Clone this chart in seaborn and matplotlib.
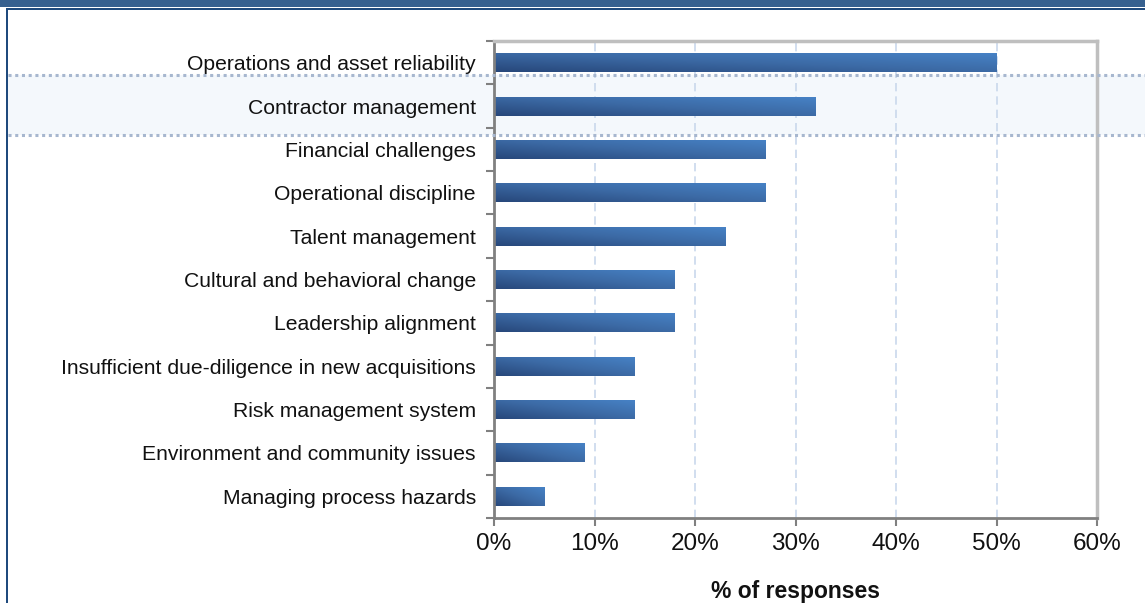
import numpy as np
import pandas as pd
import matplotlib
matplotlib.use("Agg")
import matplotlib.pyplot as plt
import seaborn as sns
from matplotlib.colors import LinearSegmentedColormap
from matplotlib.patches import Rectangle
from matplotlib.lines import Line2D
from matplotlib.ticker import FixedLocator, PercentFormatter

categories = [
    "Operations and asset reliability",
    "Contractor management",
    "Financial challenges",
    "Operational discipline",
    "Talent management",
    "Cultural and behavioral change",
    "Leadership alignment",
    "Insufficient due-diligence in new acquisitions",
    "Risk management system",
    "Environment and community issues",
    "Managing process hazards",
]
values = [50, 32, 27, 27, 23, 18, 18, 14, 14, 9, 5]
xticks = [0, 10, 20, 30, 40, 50, 60]
xlabel = "% of responses"

sns.set_theme(style="white")
plt.rcParams["font.family"] = ["Liberation Sans", "DejaVu Sans"]

W, H = 1145, 603
fig = plt.figure(figsize=(W / 100, H / 100), dpi=100, facecolor="white")

def fx(px):
    return px / W

def fy(py):
    return 1 - py / H

# header band and frame
fig.patches.append(Rectangle((0, fy(7)), 1, fy(0) - fy(7), transform=fig.transFigure,
                             facecolor="#36608F", edgecolor="none", zorder=-5))
fig.patches.append(Rectangle((fx(6), fy(10)), 1 - fx(6), fy(8) - fy(10), transform=fig.transFigure,
                             facecolor="#1F4A7D", edgecolor="none", zorder=-5))
fig.patches.append(Rectangle((fx(6), 0), fx(2), fy(8), transform=fig.transFigure,
                             facecolor="#1F4A7D", edgecolor="none", zorder=-5))
# highlight band
fig.patches.append(Rectangle((fx(8), fy(135)), 1 - fx(8), fy(75) - fy(135), transform=fig.transFigure,
                             facecolor="#F4F8FC", edgecolor="none", zorder=-4))
for yy in (75, 135):
    fig.lines.append(Line2D([fx(8), 1], [fy(yy), fy(yy)], transform=fig.transFigure,
                            color="#A7B7CF", lw=2.2, linestyle=(0, (1, 1.2)), zorder=3))

ax = fig.add_axes([fx(494), fy(518), fx(1097) - fx(494), fy(41) - fy(518)])
ax.patch.set_alpha(0)

df = pd.DataFrame({"category": categories, "value": values})
sns.barplot(data=df, x="value", y="category", orient="h", ax=ax, width=0.44,
            color="#3A6AA8", saturation=1, edgecolor="none", zorder=2)

cmap = LinearSegmentedColormap.from_list("g", ["#27477A", "#3C6AA5", "#4783C7"])
gy, gx = np.mgrid[0:1:64j, 0:1:256j]
for p in ax.patches:
    x0, y0 = p.get_x(), p.get_y()
    w, h = p.get_width(), p.get_height()
    grad = 0.5 * (1 - gy) + 0.5 * gx
    im = ax.imshow(grad, cmap=cmap, vmin=0, vmax=1, aspect="auto",
                   extent=(x0, x0 + w, y0 + h, y0), origin="upper", zorder=2.5,
                   interpolation="bilinear")
    im.set_clip_path(p)

ax.set_xlim(0, 60)
ax.set_ylim(len(categories) - 0.5, -0.5)
ax.xaxis.set_major_locator(FixedLocator(xticks))
ax.xaxis.set_major_formatter(PercentFormatter(decimals=0))
ax.grid(axis="x", color="#C9D8EC", linestyle=(0, (5, 3)), lw=1.2, zorder=0)
ax.set_axisbelow(True)

ax.set_yticks(range(len(categories)))
ax.set_yticklabels(categories)
ax.yaxis.set_minor_locator(FixedLocator(np.arange(-0.5, len(categories), 1)))
ax.tick_params(axis="y", which="major", length=0, pad=13, labelsize=15.2, labelcolor="#111111")
ax.tick_params(axis="y", which="minor", length=6, width=1.5, color="#808080", left=True)
ax.tick_params(axis="x", which="major", length=6, width=1.5, color="#808080", bottom=True,
               labelsize=17.5, labelcolor="#111111", pad=5)
ax.set_ylabel("")
ax.set_xlabel(xlabel, fontsize=16.5, fontweight="bold", color="#111111", labelpad=18)

for s in ("left", "bottom"):
    ax.spines[s].set_color("#808080")
    ax.spines[s].set_linewidth(2)
for s in ("top", "right"):
    ax.spines[s].set_color("#BFBFBF")
    ax.spines[s].set_linewidth(2.5)
for s in ax.spines.values():
    s.set_visible(True)

fig.savefig("out.png", dpi=100, facecolor="white")
